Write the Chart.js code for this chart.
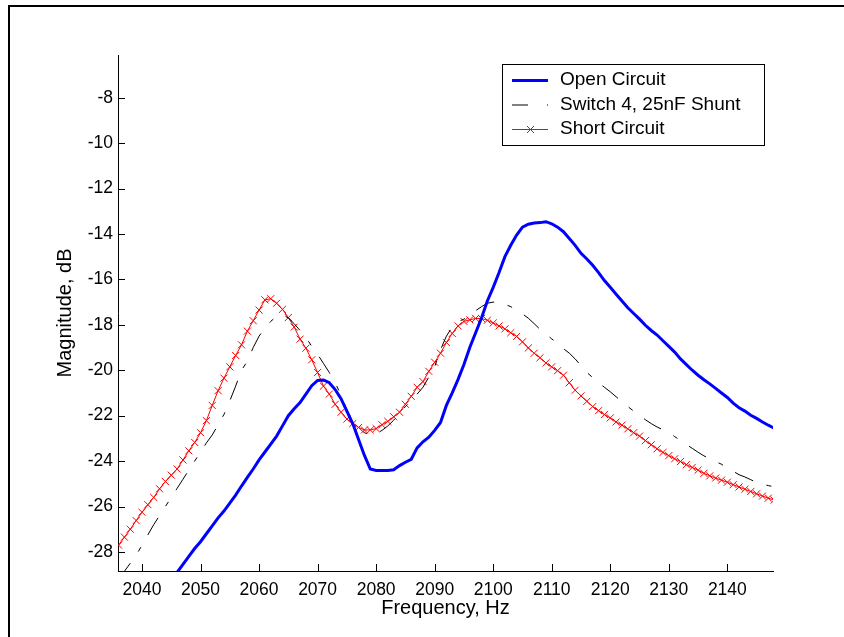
<!DOCTYPE html>
<html>
<head>
<meta charset="utf-8">
<title>Magnitude vs frequency</title>
<script src="https://cdn.jsdelivr.net/npm/chart.js@4.4.1/dist/chart.umd.min.js"></script>
<style>
  html, body { margin: 0; padding: 0; background: #fff; }
  canvas { display: block; }
</style>
</head>
<body>
<canvas id="chart" width="844" height="637"></canvas>
<script>
const freqHz = [
  2036, 2037, 2038, 2039, 2040, 2041, 2042, 2043, 2044, 2045,
  2046, 2047, 2048, 2049, 2050, 2051, 2052, 2053, 2054, 2055,
  2056, 2057, 2058, 2059, 2060, 2061, 2062, 2063, 2064, 2065,
  2066, 2067, 2068, 2069, 2070, 2071, 2072, 2073, 2074, 2075,
  2076, 2077, 2078, 2079, 2080, 2081, 2082, 2083, 2084, 2085,
  2086, 2087, 2088, 2089, 2090, 2091, 2092, 2093, 2094, 2095,
  2096, 2097, 2098, 2099, 2100, 2101, 2102, 2103, 2104, 2105,
  2106, 2107, 2108, 2109, 2110, 2111, 2112, 2113, 2114, 2115,
  2116, 2117, 2118, 2119, 2120, 2121, 2122, 2123, 2124, 2125,
  2126, 2127, 2128, 2129, 2130, 2131, 2132, 2133, 2134, 2135,
  2136, 2137, 2138, 2139, 2140, 2141, 2142, 2143, 2144, 2145,
  2146, 2147, 2148,
];

// magnitude in dB, one value per frequency above
const openCircuit = [
  null, null, null, null, null, null, null, null, null, -29.2,
  -28.9, -28.55, -28.2, -27.85, -27.55, -27.2, -26.85, -26.5, -26.2, -25.85,
  -25.5, -25.1, -24.72, -24.35, -23.95, -23.6, -23.25, -22.9, -22.45, -22.0,
  -21.7, -21.42, -21.05, -20.68, -20.45, -20.43, -20.55, -20.85, -21.25, -21.8,
  -22.35, -23.05, -23.75, -24.35, -24.41, -24.41, -24.41, -24.38, -24.2, -24.05,
  -23.92, -23.42, -23.15, -22.95, -22.65, -22.3, -21.55, -21.0, -20.4, -19.75,
  -19.0, -18.35, -17.7, -16.95, -16.35, -15.7, -15.0, -14.5, -14.05, -13.7,
  -13.57, -13.52, -13.5, -13.46, -13.55, -13.7, -13.9, -14.2, -14.5, -14.85,
  -15.1, -15.38, -15.7, -16.05, -16.35, -16.65, -16.95, -17.25, -17.5, -17.75,
  -18.02, -18.25, -18.45, -18.7, -18.95, -19.2, -19.5, -19.75, -20.0, -20.22,
  -20.42, -20.6, -20.8, -21.0, -21.2, -21.45, -21.65, -21.8, -21.98, -22.12,
  -22.28, -22.42, -22.55,
];

const switchShunt = [
  -29.2, -28.85, -28.5, -28.15, -27.7, -27.25, -26.8, -26.4, -26.0, -25.6,
  -25.2, -24.8, -24.4, -24.0, -23.6, -23.2, -22.85, -22.4, -21.95, -21.35,
  -20.7, -20.0, -19.6, -19.0, -18.5, -18.15, -17.85, -17.62, -17.55, -17.7,
  -17.95, -18.25, -18.55, -18.95, -19.3, -19.7, -20.1, -20.55, -21.1, -21.75,
  -22.3, -22.55, -22.75, -22.85, -22.8, -22.65, -22.45, -22.2, -21.9, -21.6,
  -21.35, -21.05, -20.75, -20.3, -19.85, -19.1, -18.5, -18.1, -17.86, -17.75,
  -17.6, -17.38, -17.2, -17.05, -17.0, -17.0, -17.1, -17.2, -17.35, -17.52,
  -17.71, -17.95, -18.2, -18.4, -18.62, -18.82, -19.05, -19.25, -19.5, -19.8,
  -20.1, -20.32, -20.55, -20.75, -20.95, -21.17, -21.38, -21.6, -21.8, -21.98,
  -22.18, -22.35, -22.5, -22.62, -22.74, -22.92, -23.1, -23.27, -23.44, -23.61,
  -23.77, -23.9, -24.02, -24.14, -24.3, -24.45, -24.6, -24.7, -24.82, -24.94,
  -25.02, -25.08, -25.13,
];

const shortCircuit = [
  -27.7, -27.35, -27.0, -26.62, -26.25, -25.92, -25.6, -25.22, -24.9, -24.62,
  -24.35, -23.95, -23.55, -23.18, -22.75, -22.22, -21.55, -20.9, -20.35, -19.85,
  -19.35, -18.88, -18.28, -17.82, -17.35, -16.9, -16.85, -17.05, -17.32, -17.68,
  -18.1, -18.63, -19.03, -19.54, -20.1, -20.7, -21.05, -21.5, -21.85, -22.15,
  -22.35, -22.52, -22.63, -22.63, -22.57, -22.4, -22.25, -22.05, -21.85, -21.5,
  -21.15, -20.75, -20.5, -20.05, -19.65, -19.25, -18.78, -18.38, -18.05, -17.85,
  -17.78, -17.72, -17.72, -17.8, -17.92, -18.05, -18.18, -18.35, -18.51, -18.75,
  -19.02, -19.25, -19.45, -19.68, -19.85, -20.02, -20.22, -20.55, -20.88, -21.13,
  -21.37, -21.6, -21.78, -21.95, -22.1, -22.28, -22.42, -22.58, -22.75, -22.9,
  -23.1, -23.28, -23.46, -23.62, -23.76, -23.9, -24.02, -24.16, -24.28, -24.4,
  -24.54, -24.65, -24.75, -24.84, -24.93, -25.04, -25.14, -25.24, -25.34, -25.44,
  -25.54, -25.63, -25.72,
];

const xTicks = [2040, 2050, 2060, 2070, 2080, 2090, 2100, 2110, 2120, 2130, 2140];
const yTicks = [-28, -26, -24, -22, -20, -18, -16, -14, -12, -10, -8];

const FONT = "'Liberation Sans', Arial, sans-serif";
const dashDot = [20, 14, 5, 14];

function toPoints(values) {
  return freqHz.map((f, i) => ({ x: f, y: values[i] }));
}

// white page with the heavy top/left frame edge
const framePlugin = {
  id: "frame",
  beforeDraw(chart) {
    const ctx = chart.ctx;
    ctx.save();
    ctx.fillStyle = "#fff";
    ctx.fillRect(0, 0, chart.width, chart.height);
    ctx.fillStyle = "#000";
    ctx.fillRect(8, 5, chart.width - 8, 2);
    ctx.fillRect(8, 5, 2, chart.height - 5);
    ctx.restore();
  },
};

// tick marks pointing into the plot area
const innerTicksPlugin = {
  id: "innerTicks",
  afterDatasetsDraw(chart) {
    const { ctx, chartArea, scales } = chart;
    ctx.save();
    ctx.strokeStyle = "#000";
    ctx.lineWidth = 1;
    ctx.beginPath();
    scales.x.ticks.forEach((t) => {
      const px = Math.round(scales.x.getPixelForValue(t.value)) + 0.5;
      ctx.moveTo(px, chartArea.bottom);
      ctx.lineTo(px, chartArea.bottom - 7);
    });
    scales.y.ticks.forEach((t) => {
      const py = Math.round(scales.y.getPixelForValue(t.value)) + 0.5;
      ctx.moveTo(chartArea.left, py);
      ctx.lineTo(chartArea.left + 7, py);
    });
    ctx.stroke();
    ctx.restore();
  },
};

// boxed legend in the upper right
const boxLegendPlugin = {
  id: "boxLegend",
  afterDraw(chart) {
    const ctx = chart.ctx;
    const box = { x: 502.5, y: 64.5, w: 262, h: 81 };
    const rows = [80, 104.5, 129];
    ctx.save();
    ctx.fillStyle = "#fff";
    ctx.fillRect(box.x, box.y, box.w, box.h);
    ctx.strokeStyle = "#000";
    ctx.lineWidth = 1;
    ctx.strokeRect(box.x, box.y, box.w, box.h);

    chart.data.datasets.forEach((ds, i) => {
      const opts = chart.getDatasetMeta(i).dataset.options;
      const color = opts.borderColor;
      const y = rows[i] + 0.5;
      ctx.strokeStyle = color;
      ctx.lineWidth = opts.borderWidth;
      ctx.setLineDash(ds.legendDash || []);
      ctx.beginPath();
      ctx.moveTo(512, y);
      ctx.lineTo(548, y);
      ctx.stroke();
      ctx.setLineDash([]);
      if (ds.pointStyle === "crossRot") {
        ctx.strokeStyle = color;
        ctx.lineWidth = 1;
        ctx.beginPath();
        ctx.moveTo(527, y - 3.5);
        ctx.lineTo(534, y + 3.5);
        ctx.moveTo(527, y + 3.5);
        ctx.lineTo(534, y - 3.5);
        ctx.stroke();
      }
      ctx.fillStyle = "#000";
      ctx.font = "19px " + FONT;
      ctx.textBaseline = "middle";
      ctx.fillText(ds.label, 560, rows[i]);
    });
    ctx.restore();
  },
};

new Chart(document.getElementById("chart"), {
  type: "line",
  data: {
    datasets: [
      {
        label: "Open Circuit",
        data: toPoints(openCircuit),
        borderColor: "#0000ff",
        borderWidth: 3,
        pointRadius: 0,
        tension: 0,
      },
      {
        label: "Switch 4, 25nF Shunt",
        data: toPoints(switchShunt),
        borderColor: "#000000",
        borderWidth: 1,
        borderDash: dashDot,
        legendDash: [16, 19, 2, 14],
        pointRadius: 0,
        tension: 0,
      },
      {
        label: "Short Circuit",
        data: toPoints(shortCircuit),
        borderColor: "#ff0000",
        borderWidth: 1,
        pointStyle: "crossRot",
        pointRadius: 5,
        pointBorderWidth: 1,
        pointBorderColor: "#ff0000",
        pointBackgroundColor: "#ff0000",
        tension: 0,
      },
    ],
  },
  options: {
    responsive: false,
    animation: false,
    devicePixelRatio: 1,
    layout: { padding: { top: 55, right: 71, left: 0, bottom: 0 } },
    plugins: {
      legend: { display: false },
      tooltip: { enabled: false },
    },
    scales: {
      x: {
        type: "linear",
        min: 2035.9,
        max: 2147.8,
        afterBuildTicks: (scale) => {
          scale.ticks = xTicks.map((v) => ({ value: v }));
        },
        afterFit: (scale) => {
          scale.height = 66;
        },
        grid: { drawOnChartArea: false, drawTicks: false },
        border: { color: "#000", width: 1 },
        ticks: {
          color: "#000",
          padding: 9,
          maxRotation: 0,
          font: { family: FONT, size: 17.5 },
          callback: (value) => String(value),
        },
        title: {
          display: true,
          text: "Frequency, Hz",
          color: "#000",
          font: { family: FONT, size: 20 },
          padding: { top: 0, bottom: 17 },
        },
      },
      y: {
        min: -28.84,
        max: -6.12,
        afterBuildTicks: (scale) => {
          scale.ticks = yTicks.map((v) => ({ value: v }));
        },
        afterFit: (scale) => {
          scale.width = 118;
        },
        grid: { drawOnChartArea: false, drawTicks: false },
        border: { color: "#000", width: 1 },
        ticks: {
          color: "#000",
          padding: 5,
          font: { family: FONT, size: 17.5 },
          callback: (value) => String(value),
        },
        title: {
          display: true,
          text: "Magnitude, dB",
          color: "#000",
          font: { family: FONT, size: 20 },
          padding: { top: 53, bottom: 0 },
        },
      },
    },
  },
  plugins: [framePlugin, innerTicksPlugin, boxLegendPlugin],
});
</script>
</body>
</html>
